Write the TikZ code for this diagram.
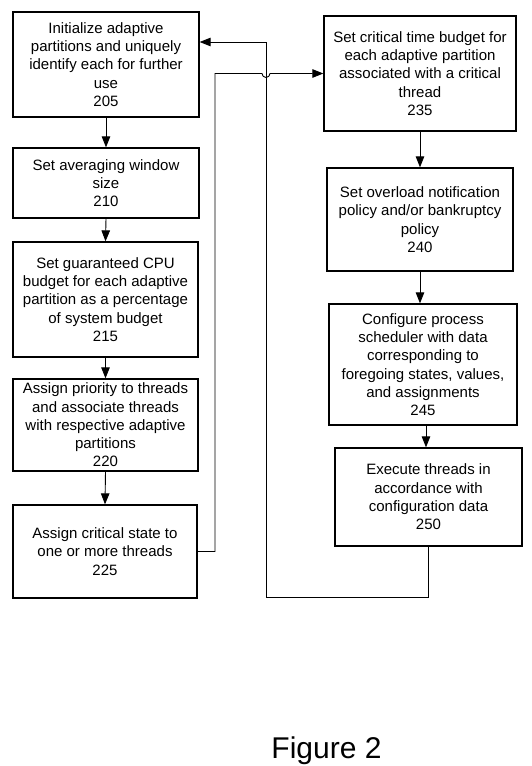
\documentclass[tikz,border=0pt]{standalone}
\usepackage{fontspec}
\setmainfont{Liberation Sans}
\usetikzlibrary{arrows.meta}
\begin{document}
\begin{tikzpicture}[x=1pt,y=-1pt,
  box/.style={draw,line width=1.3pt,align=center,inner sep=0pt,
    font=\fontsize{15}{18.3}\selectfont},
  conn/.style={line width=0.9pt,-{Triangle[length=11pt,width=8.5pt]}},
  plain/.style={line width=0.9pt}]
\useasboundingbox (0,0) rectangle (532,766);
\fill[white] (0,0) rectangle (532,766);
% left column
\node[box,minimum width=186pt,minimum height=105pt] (b205) at (106,64.5)
  {Initialize adaptive\\partitions and uniquely\\identify each for further\\use\\205};
\node[box,minimum width=186pt,minimum height=70pt] (b210) at (106,183)
  {Set averaging window\\size\\210};
\node[box,minimum width=185pt,minimum height=115pt] (b215) at (105.5,299.5)
  {Set guaranteed CPU\\budget for each adaptive\\partition as a percentage\\of system budget\\215};
\node[box,minimum width=185pt,minimum height=92pt] (b220) at (105.5,425)
  {Assign priority to threads\\and associate threads\\with respective adaptive\\partitions\\220};
\node[box,minimum width=184pt,minimum height=93pt] (b225) at (105,551.5)
  {Assign critical state to\\one or more threads\\225};
% right column
\node[box,minimum width=192pt,minimum height=115pt] (b235) at (420,73.5)
  {Set critical time budget for\\each adaptive partition\\associated with a critical\\thread\\235};
\node[box,minimum width=186pt,minimum height=103pt] (b240) at (420,219.5)
  {Set overload notification\\policy and/or bankruptcy\\policy\\240};
\node[box,minimum width=188pt,minimum height=121pt] (b245) at (423,364.5)
  {Configure process\\scheduler with data\\corresponding to\\foregoing states, values,\\and assignments\\245};
\node[box,minimum width=187pt,minimum height=98pt] (b250) at (428.5,497)
  {Execute threads in\\accordance with\\configuration data\\250};
% caption
\node[font=\fontsize{30}{36}\selectfont,anchor=base] (cap) at (326.5,758) {Figure 2};
% arrows
\draw[conn] (b205.south) -- (b210.north);
\draw[conn] (b210.south) -- (b215.north);
\draw[conn] (b215.south) -- (b220.north);
\draw[conn] (b220.south) -- (b225.north);
\draw[conn] (b235.south) -- (b240.north);
\draw[conn] (b240.south) -- (b240.south |- b245.north);
\draw[conn] ([xshift=3pt]b245.south) -- ([xshift=3pt]b245.south |- b250.north);
% 225 -> 235 with hop
\coordinate (h1) at (262,73.5);
\draw[conn] (b225.east) -| (215,73.5) -- (h1) arc[start angle=180,end angle=0,radius=4] -- (b235.west);
% feedback 250 -> 205
\coordinate (fb) at (266,42);
\draw[conn] (b250.south) |- (266,597) -- (fb) -- (fb -| b205.east);
\end{tikzpicture}
\end{document}
